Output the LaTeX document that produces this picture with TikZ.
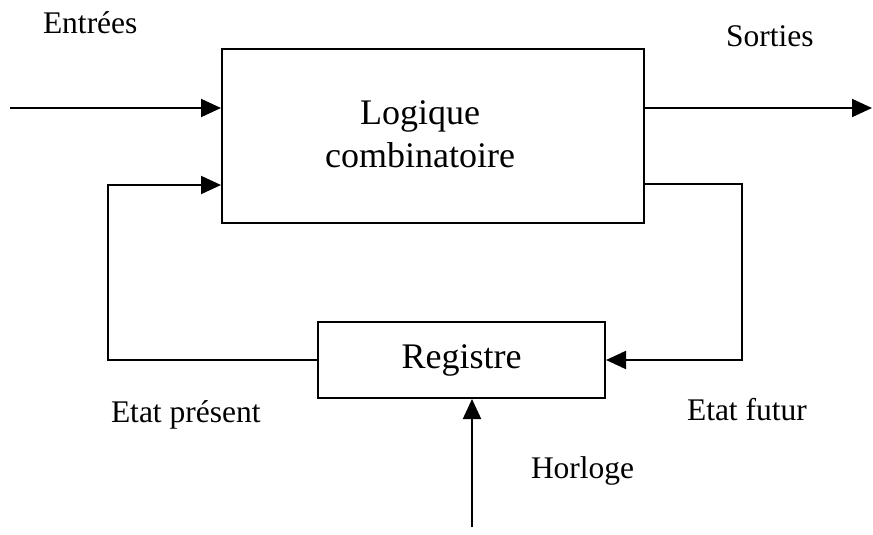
\documentclass[tikz,border=0pt]{standalone}
\usepackage{fontspec}
\setmainfont{Liberation Serif}
\usetikzlibrary{arrows.meta}

\begin{document}
\begin{tikzpicture}[x=1pt, y=-1pt, line width=2pt,
  bloc/.style={draw, rectangle, inner sep=0pt},
  etiquette/.style={anchor=base west, inner sep=0pt, font=\fontsize{31.5}{38}\selectfont},
  texte/.style={align=center, inner sep=0pt, font=\fontsize{36}{43}\selectfont},
  fleche/.style={-{Triangle[length=20pt, width=18pt]}}]
\useasboundingbox (0,0) rectangle (873,535);
\node[bloc, minimum width=422, minimum height=174] (logique) at (433,136) {};
\node[texte] (logiquetxt) at (420,134) {Logique\\combinatoire};
\node[bloc, minimum width=287, minimum height=76, font=\fontsize{36}{43}\selectfont] (registre) at (461.5,360) {Registre};
\node[etiquette] (entrees) at (42,34) {Entrées};
\node[etiquette] (sorties) at (725,47) {Sorties};
\node[etiquette] (etatpresent) at (110,422) {Etat présent};
\node[etiquette] (etatfutur) at (686,420) {Etat futur};
\node[etiquette] (horlogetxt) at (530,478) {Horloge};
\coordinate (entree) at (10,108);
\coordinate (sortie) at (872,108);
\coordinate (futur) at (742,184);
\coordinate (present) at (108,185);
\coordinate (horloge) at (472,527);
\draw [fleche] (entree) -- (entree -| logique.west);
\draw [fleche] (logique.east |- sortie) -- (sortie);
\draw [fleche] (logique.east |- futur) -- (futur) |- (registre.east);
\draw [fleche] (registre.west) -| (present) -- (present -| logique.west);
\draw [fleche] (horloge) -- (horloge |- registre.south);
\end{tikzpicture}
\end{document}
